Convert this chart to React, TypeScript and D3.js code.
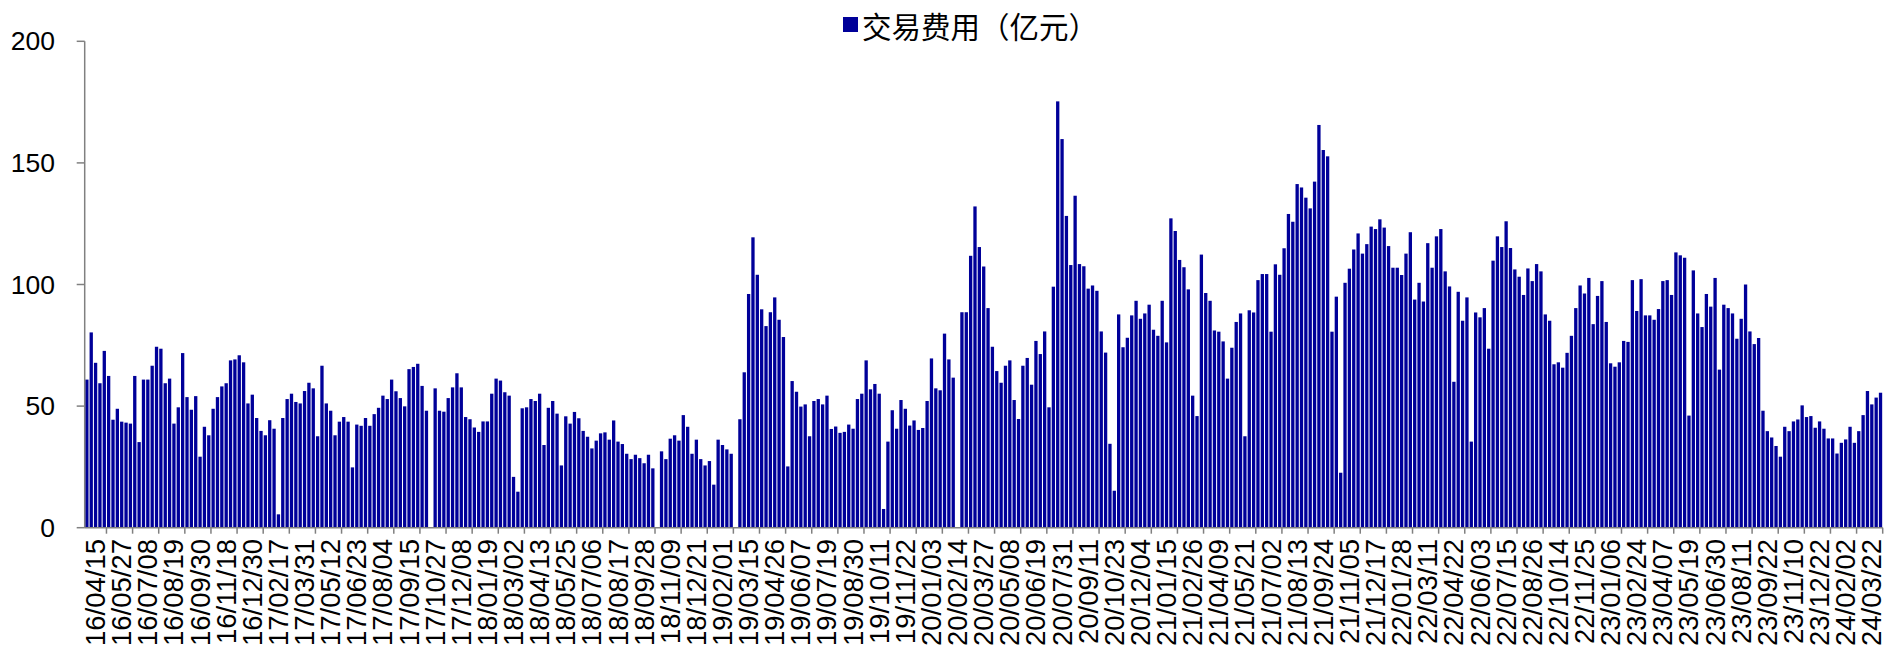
import React from "react";
import * as d3 from "d3";

// weekly transaction fees (亿元), in chart order
const values: number[] = [
  60.9, 80.3, 67.8, 59.4, 72.7, 62.4, 44.4, 48.9, 43.6, 43.2, 42.8, 62.4, 35.2, 60.9, 60.9, 66.6, 74.4, 73.6, 59.4, 61.3,
  42.8, 49.5, 71.8, 53.7, 48.5, 54.1, 29.2, 41.5, 38.0, 48.9, 53.7, 58.1, 59.4, 68.8, 69.2, 70.9, 68.0, 51.1, 54.7, 45.1,
  39.8, 38.0, 44.2, 40.7, 5.5, 45.1, 52.9, 55.1, 51.7, 51.1, 56.2, 59.6, 57.3, 37.6, 66.6, 51.1, 48.1, 38.0, 43.6, 45.5,
  43.6, 24.8, 42.4, 41.9, 45.1, 41.9, 46.7, 49.3, 54.3, 52.9, 60.9, 56.1, 53.3, 49.9, 65.2, 66.1, 67.4, 58.3, 48.1, 0,
  57.3, 48.1, 47.7, 53.3, 57.7, 63.5, 57.7, 45.5, 44.6, 41.2, 39.4, 43.7, 43.7, 55.1, 61.3, 60.5, 55.7, 54.3, 20.9, 14.8,
  49.1, 49.5, 52.9, 52.1, 55.1, 34.0, 49.3, 52.1, 46.9, 25.6, 45.8, 42.8, 47.6, 45.0, 39.8, 37.4, 32.6, 35.8, 38.8, 39.2,
  36.2, 44.1, 35.4, 34.4, 30.4, 28.2, 30.0, 28.6, 26.5, 30.0, 24.4, 0, 31.4, 28.2, 36.6, 38.0, 35.8, 46.3, 41.5, 30.4,
  36.2, 28.2, 25.6, 27.4, 17.7, 36.2, 34.0, 32.2, 30.4, 0, 44.6, 63.9, 96.1, 119.4, 104.0, 89.8, 82.9, 88.6, 94.7, 85.5,
  78.4, 25.2, 60.3, 55.9, 49.8, 50.7, 37.6, 52.1, 52.9, 50.7, 54.3, 40.6, 41.6, 39.0, 39.4, 42.4, 40.7, 52.9, 55.1, 68.8,
  56.9, 59.1, 55.1, 7.7, 35.4, 48.3, 40.7, 52.5, 48.9, 42.0, 44.1, 40.2, 41.0, 52.1, 69.6, 57.3, 56.5, 79.8, 69.2, 61.7,
  0, 88.6, 88.6, 111.8, 132.1, 115.4, 107.4, 90.3, 74.4, 64.4, 59.6, 66.6, 68.8, 52.5, 44.7, 66.6, 69.8, 58.8, 76.8, 71.4,
  80.7, 49.5, 99.1, 175.3, 159.8, 128.2, 108.0, 136.5, 108.4, 107.5, 98.3, 99.6, 97.4, 80.7, 72.0, 34.5, 15.2, 87.7, 74.2, 78.1,
  87.3, 93.3, 85.9, 88.1, 91.7, 81.4, 78.9, 93.3, 76.2, 127.2, 122.0, 110.1, 107.1, 98.0, 54.3, 45.9, 112.3, 96.5, 93.3, 81.1,
  80.6, 76.6, 61.3, 74.0, 84.6, 88.1, 37.6, 89.4, 88.5, 101.8, 104.3, 104.3, 80.6, 108.3, 104.0, 114.9, 129.0, 125.8, 141.3, 139.9,
  135.7, 131.3, 142.3, 165.6, 155.3, 152.7, 80.6, 95.0, 22.6, 100.7, 106.5, 114.4, 121.0, 112.7, 116.6, 123.8, 122.8, 126.8, 123.4, 115.8,
  106.9, 106.9, 103.9, 112.7, 121.5, 93.8, 100.7, 93.0, 117.0, 106.9, 119.8, 122.8, 105.4, 99.2, 60.0, 97.0, 85.1, 94.7, 35.4, 88.5,
  86.5, 90.3, 73.6, 109.8, 119.8, 115.4, 126.0, 115.0, 106.2, 103.2, 95.7, 106.6, 101.4, 108.4, 105.4, 87.7, 85.1, 67.2, 68.0, 65.8,
  71.9, 78.9, 90.3, 99.6, 96.3, 102.7, 83.7, 95.3, 101.4, 84.6, 67.6, 66.2, 68.0, 76.8, 76.4, 101.8, 89.1, 102.2, 87.3, 87.3,
  85.5, 89.9, 101.4, 101.8, 95.7, 113.2, 112.0, 111.0, 46.1, 105.8, 88.1, 82.5, 96.1, 90.9, 102.7, 65.0, 91.7, 90.3, 88.1, 77.7,
  85.9, 100.0, 80.7, 75.5, 78.0, 48.1, 39.7, 37.1, 33.6, 29.2, 41.5, 39.7, 43.7, 44.5, 50.3, 45.5, 45.9, 41.1, 43.7, 40.7,
  36.7, 36.7, 30.5, 34.9, 36.3, 41.5, 34.9, 39.7, 46.3, 56.2, 50.7, 53.5, 55.5,
];

// one label every 6th category
const tickLabels: string[] = [
  "16/04/15", "16/05/27", "16/07/08", "16/08/19", "16/09/30", "16/11/18", "16/12/30",
  "17/02/17", "17/03/31", "17/05/12", "17/06/23", "17/08/04", "17/09/15", "17/10/27", "17/12/08",
  "18/01/19", "18/03/02", "18/04/13", "18/05/25", "18/07/06", "18/08/17", "18/09/28", "18/11/09", "18/12/21",
  "19/02/01", "19/03/15", "19/04/26", "19/06/07", "19/07/19", "19/08/30", "19/10/11", "19/11/22",
  "20/01/03", "20/02/14", "20/03/27", "20/05/08", "20/06/19", "20/07/31", "20/09/11", "20/10/23", "20/12/04",
  "21/01/15", "21/02/26", "21/04/09", "21/05/21", "21/07/02", "21/08/13", "21/09/24", "21/11/05", "21/12/17",
  "22/01/28", "22/03/11", "22/04/22", "22/06/03", "22/07/15", "22/08/26", "22/10/14", "22/11/25",
  "23/01/06", "23/02/24", "23/04/07", "23/05/19", "23/06/30", "23/08/11", "23/09/22", "23/11/10", "23/12/22",
  "24/02/02", "24/03/22",
];

const yTicks: number[] = [0, 50, 100, 150, 200];
const seriesName = "交易费用（亿元）";

const W = 1895;
const H = 655;
const LEFT = 84.7;
const RIGHT = 1882.7;
const TOP = 41.3;
const BOTTOM = 527.7;
const BAR = "#000099";
const AXIS = "#808080";
const LATIN = "'Liberation Sans', Arial, sans-serif";

export default function App() {
  const n = values.length;
  const x = d3
    .scaleBand<number>()
    .domain(d3.range(n))
    .range([LEFT, RIGHT])
    .paddingInner(0.24)
    .paddingOuter(0.12);
  const y = d3.scaleLinear().domain([0, 200]).range([BOTTOM, TOP]);
  const step = x.step();
  const labelOffset = 2;

  return (
    <svg
      width={W}
      height={H}
      style={{ position: "absolute", left: 0, top: 0, background: "#fff" }}
    >
      {/* bars */}
      <g>
        {values.map((v, i) =>
          v > 0 ? (
            <rect
              key={i}
              x={x(i)}
              y={y(v)}
              width={x.bandwidth()}
              height={BOTTOM - y(v)}
              fill={BAR}
            />
          ) : null
        )}
      </g>
      {/* y axis */}
      <line x1={LEFT} x2={LEFT} y1={TOP} y2={BOTTOM} stroke={AXIS} strokeWidth={1.5} />
      {yTicks.map((t) => (
        <g key={t}>
          <line x1={LEFT - 8} x2={LEFT} y1={y(t)} y2={y(t)} stroke={AXIS} strokeWidth={1.5} />
          <text
            x={55}
            y={y(t)}
            textAnchor="end"
            dominantBaseline="central"
            fontFamily={LATIN}
            fontSize={26.5}
            fill="#000"
          >
            {t}
          </text>
        </g>
      ))}
      {/* x axis */}
      <line x1={LEFT} x2={RIGHT} y1={BOTTOM} y2={BOTTOM} stroke={AXIS} strokeWidth={1.5} />
      {tickLabels.map((lab, k) => {
        const tx = LEFT + (5 + 6 * k) * step;
        const cx = (x(labelOffset + 6 * k) ?? 0) + x.bandwidth() / 2;
        return (
          <g key={lab}>
            <line x1={tx} x2={tx} y1={BOTTOM} y2={BOTTOM + 6} stroke={AXIS} strokeWidth={1.5} />
            <text
              transform={`translate(${cx},${539}) rotate(-90)`}
              textAnchor="end"
              dominantBaseline="central"
              fontFamily={LATIN}
              fontSize={27.5}
              fill="#000"
            >
              {lab}
            </text>
          </g>
        );
      })}
      {/* legend */}
      <g>
        <rect x={843} y={17} width={15} height={15} fill={BAR} />
        <text
          x={862}
          y={25}
          dominantBaseline="central"
          fontFamily="'Noto Sans CJK SC', sans-serif"
          fontSize={29.5}
          fill="#000"
        >
          {seriesName}
        </text>
      </g>
    </svg>
  );
}
